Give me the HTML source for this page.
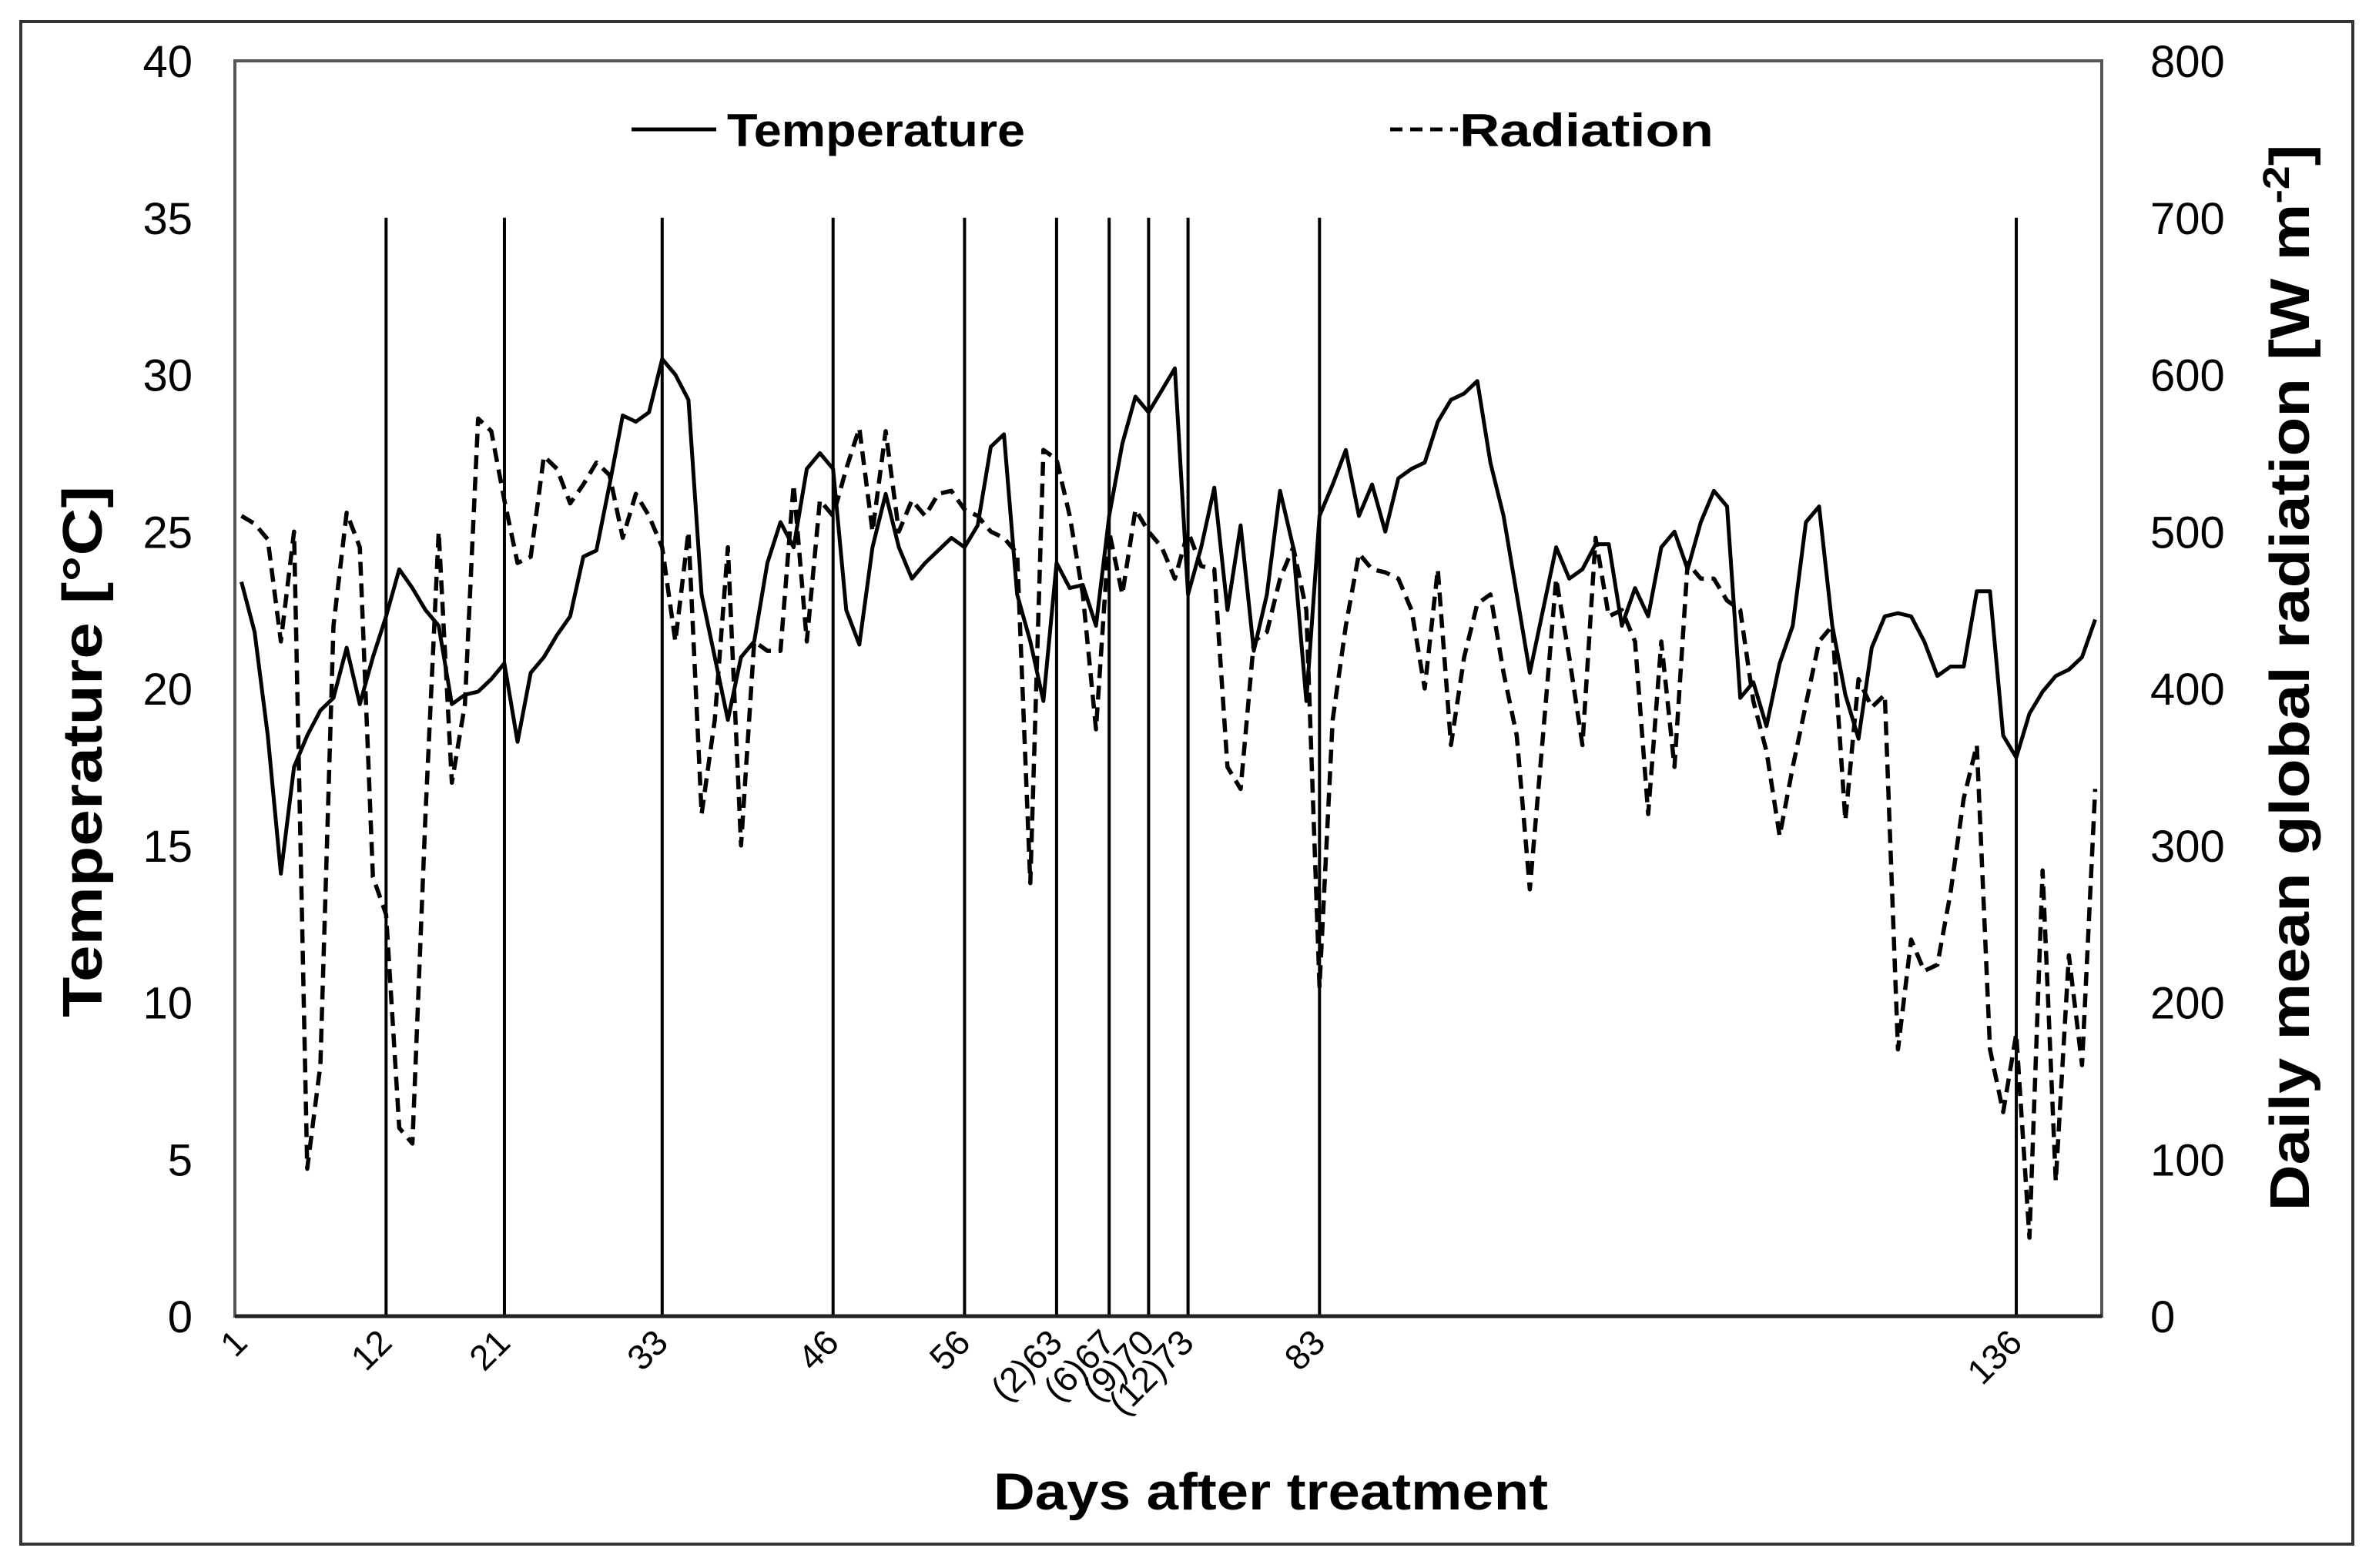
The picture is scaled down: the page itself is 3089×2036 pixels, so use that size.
<!DOCTYPE html>
<html><head><meta charset="utf-8"><style>
html,body{margin:0;padding:0;background:#fff;}
svg{display:block;font-family:"Liberation Sans",Arial,sans-serif;}
</style></head><body>
<svg id="chart" width="3089" height="2036" viewBox="0 0 3089 2036" xmlns="http://www.w3.org/2000/svg">
<rect x="27" y="28" width="3028" height="1977" fill="#fff" stroke="#333" stroke-width="4"/>
<g id="marks"></g>
<g id="axes"></g>
<g>
  <line x1="820" y1="168" x2="930" y2="168" stroke="#000" stroke-width="5"/>
  <text x="944" y="190" font-size="60" font-weight="bold" textLength="387" lengthAdjust="spacingAndGlyphs">Temperature</text>
  <line x1="1805" y1="168" x2="1893" y2="168" stroke="#000" stroke-width="5" stroke-dasharray="16 10"/>
  <text x="1895" y="190" font-size="60" font-weight="bold" textLength="330" lengthAdjust="spacingAndGlyphs">Radiation</text>
</g>
<text transform="translate(132,976) rotate(-90)" text-anchor="middle" font-size="72" font-weight="bold" textLength="690" lengthAdjust="spacingAndGlyphs">Temperature [°C]</text>
<text transform="translate(2998,880) rotate(-90)" text-anchor="middle" font-size="72" font-weight="bold" textLength="1385" lengthAdjust="spacingAndGlyphs">Daily mean global radiation [W m<tspan font-size="48" dy="-26">-2</tspan><tspan dy="26">]</tspan></text>
<text x="1650" y="1960" text-anchor="middle" font-size="68" font-weight="bold" textLength="720" lengthAdjust="spacingAndGlyphs">Days after treatment</text>
</svg>
<script>
const days = Array.from({length:142},(_,i)=>i+1);
const temperature = [23.4,21.8,18.5,14.1,17.5,18.5,19.3,19.7,21.3,19.5,21.0,22.3,23.8,23.2,22.5,22.0,19.5,19.8,19.9,20.3,20.8,18.3,20.5,21.0,21.7,22.3,24.2,24.4,26.5,28.7,28.5,28.8,30.5,30.0,29.2,23.0,21.0,19.0,21.0,21.5,24.0,25.3,24.5,27.0,27.5,27.0,22.5,21.4,24.5,26.2,24.5,23.5,24.0,24.4,24.8,24.5,25.2,27.7,28.1,23.0,21.5,19.6,24.0,23.2,23.3,22.0,25.5,27.8,29.3,28.8,29.5,30.2,23.0,24.5,26.4,22.5,25.2,21.2,23.0,26.3,24.5,19.6,25.5,26.5,27.6,25.5,26.5,25.0,26.7,27.0,27.2,28.5,29.2,29.4,29.8,27.2,25.5,23.0,20.5,22.5,24.5,23.5,23.8,24.6,24.6,22.0,23.2,22.3,24.5,25.0,23.8,25.3,26.3,25.8,19.7,20.2,18.8,20.8,22.0,25.3,25.8,22.0,19.8,18.4,21.3,22.3,22.4,22.3,21.5,20.4,20.7,20.7,23.1,23.1,18.5,17.8,19.2,19.9,20.4,20.6,21.0,22.2];
const radiation = [510,505,495,430,500,94,160,440,512,490,280,256,120,110,320,500,340,390,572,564,520,480,484,548,540,518,530,544,536,496,524,510,490,430,500,320,380,490,300,430,424,424,530,430,520,510,540,566,500,564,500,520,510,524,526,514,510,500,496,486,276,552,546,510,460,374,500,460,514,500,490,470,500,478,476,350,336,430,436,470,490,450,210,380,440,486,476,474,470,450,400,476,364,420,454,460,410,370,272,370,470,420,364,496,446,450,430,320,430,350,480,470,470,456,450,392,360,306,350,390,430,440,316,406,388,396,170,240,220,224,270,330,364,170,130,180,50,284,86,230,160,336];
const eventDays = [12,21,33,46,56,63,67,70,73,83,136];
const eventLabels = ["12","21","33","46","56","(2)63","(6)67","(9)70","(12)73","83","136"];
const tempTicks = [0,5,10,15,20,25,30,35,40];
const radTicks = [0,100,200,300,400,500,600,700,800];

const NS="http://www.w3.org/2000/svg";
const L=305,R=2729,T=79,B=1709;
const dayW=(R-L)/142;
const xs=d=>L+(d-0.5)*dayW;
const yT=v=>B-(v/40)*(B-T);
const yR=v=>B-(v/800)*(B-T);
function mk(tag,attrs,parent){const e=document.createElementNS(NS,tag);for(const k in attrs)e.setAttribute(k,attrs[k]);parent.appendChild(e);return e;}
const marks=document.getElementById('marks'),axes=document.getElementById('axes');

eventDays.forEach((d,i)=>{
  const l=mk('line',{x1:xs(d),x2:xs(d),y1:yT(35),y2:B,stroke:'#000','stroke-width':4},marks);
  
  
  const t=mk('text',{transform:`translate(${xs(d)+10},1746) rotate(-45)`,'text-anchor':'end','font-size':46},axes);
  t.textContent=eventLabels[i];
  
  
});
const t1=mk('text',{transform:`translate(${xs(1)+10},1746) rotate(-45)`,'text-anchor':'end','font-size':46},axes);
t1.textContent="1";



const rp=mk('path',{d:radiation.map((v,i)=>(i?'L':'M')+xs(days[i]).toFixed(1)+','+yR(v).toFixed(1)).join(''),fill:'none',stroke:'#000','stroke-width':5.5,'stroke-dasharray':'18 10','stroke-linejoin':'round'},marks);


const tp=mk('path',{d:temperature.map((v,i)=>(i?'L':'M')+xs(days[i]).toFixed(1)+','+yT(v).toFixed(1)).join(''),fill:'none',stroke:'#000','stroke-width':5,'stroke-linejoin':'round'},marks);



const box=mk('rect',{x:L,y:T,width:R-L,height:B-T,fill:'none',stroke:'#555','stroke-width':4},axes);


const base=mk('line',{x1:L,x2:R,y1:B,y2:B,stroke:'#222','stroke-width':5},axes);



tempTicks.forEach(v=>{
  const t=mk('text',{x:250,y:yT(v)+21,'text-anchor':'end','font-size':58},axes);
  t.textContent=v;
  
  
});
radTicks.forEach(v=>{
  const t=mk('text',{x:2792,y:yR(v)+21,'text-anchor':'start','font-size':58},axes);
  t.textContent=v;
  
  
});
</script>
</body></html>
